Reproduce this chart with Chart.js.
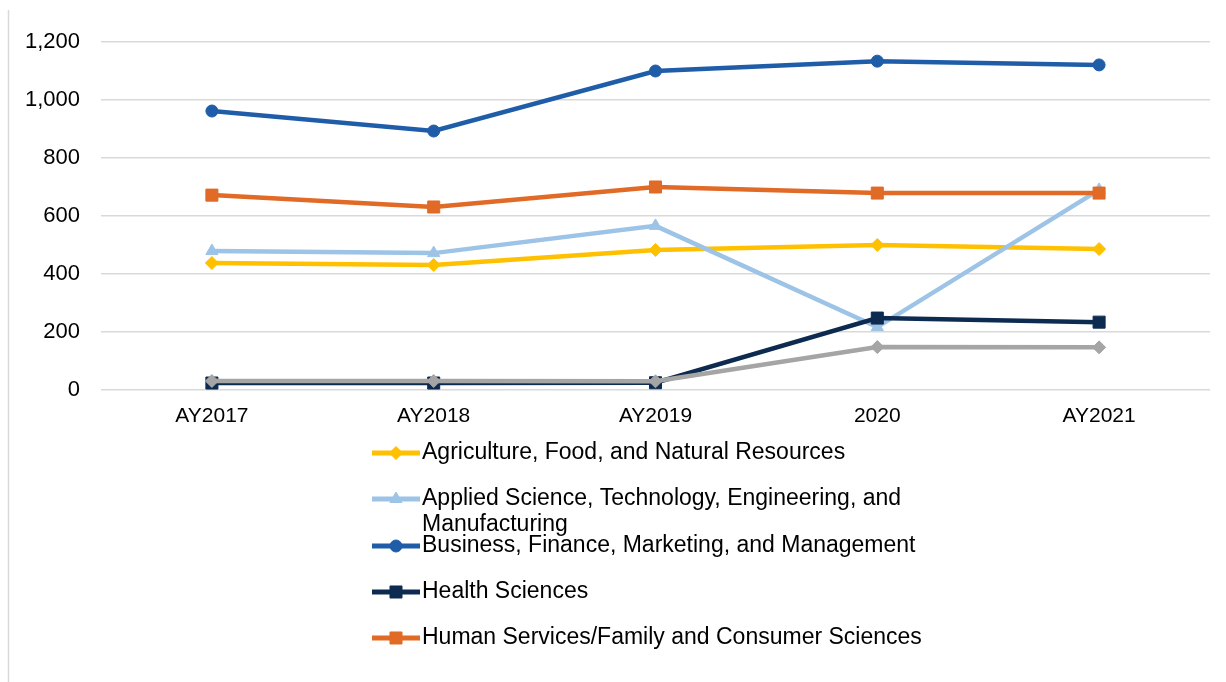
<!DOCTYPE html>
<html>
<head>
<meta charset="utf-8">
<script src="https://cdn.jsdelivr.net/npm/chart.js@4.4.1/dist/chart.umd.min.js"></script>
<style>
html,body{margin:0;padding:0;background:#fff;}
#wrap{position:relative;width:1226px;height:682px;}
</style>
</head>
<body>
<div id="wrap"><canvas id="c" width="1226" height="682"></canvas></div>
<script>
const categories = ["AY2017", "AY2018", "AY2019", "2020", "AY2021"];
const yTicks = [0, 200, 400, 600, 800, 1000, 1200];

const agriculture = [438, 431, 483, 500, 486];
const appliedScience = [479, 472, 566, 217, 690];
const business = [962, 893, 1100, 1134, 1121];
const healthSciences = [24, 24, 25, 248, 234];
const humanServices = [672, 631, 700, 679, 679];
const otherCluster = [31, 31, 30, 148, 147];

const seriesNames = [
  "Agriculture, Food, and Natural Resources",
  "Applied Science, Technology, Engineering, and Manufacturing",
  "Business, Finance, Marketing, and Management",
  "Health Sciences",
  "Human Services/Family and Consumer Sciences",
  "Other"
];
const legendCount = 5;

const FONT = '"Liberation Sans", Arial, sans-serif';

function ds(label, data, color, style, radius, order) {
  return {
    label, data,
    borderColor: color, backgroundColor: color,
    pointBackgroundColor: color, pointBorderColor: color,
    pointStyle: style, pointRadius: radius, pointHoverRadius: radius,
    pointBorderWidth: 1,
    borderWidth: 4.5, tension: 0, order
  };
}

const datasets = [
  ds(seriesNames[0], agriculture, "#FFC000", "rectRot", 6.5, 5),
  ds(seriesNames[1], appliedScience, "#9DC3E6", "triangle", 7, 4),
  ds(seriesNames[2], business, "#1F5DA8", "circle", 6, 3),
  ds(seriesNames[3], healthSciences, "#0D2B50", "rect", 8.5, 2),
  ds(seriesNames[4], humanServices, "#E06A26", "rect", 8.5, 1),
  ds(seriesNames[5], otherCluster, "#A5A5A5", "rectRot", 6.5, 0)
];

const legendPlugin = {
  id: "customLegend",
  afterDraw(chart) {
    const ctx = chart.ctx;
    ctx.save();
    ctx.strokeStyle = "#D9D9D9";
    ctx.lineWidth = 1.5;
    ctx.beginPath();
    ctx.moveTo(8.5, 10);
    ctx.lineTo(8.5, 682);
    ctx.stroke();

    ctx.font = "23px " + FONT;
    ctx.textBaseline = "middle";
    ctx.textAlign = "left";
    const x0 = 372, lineLen = 48, textX = 422, maxW = 520;
    const ys = [453, 499, 546, 592, 638];
    for (let i = 0; i < legendCount; i++) {
      const d = chart.data.datasets[i];
      const y = ys[i];
      ctx.strokeStyle = d.borderColor;
      ctx.lineWidth = 5;
      ctx.beginPath();
      ctx.moveTo(x0, y);
      ctx.lineTo(x0 + lineLen, y);
      ctx.stroke();
      ctx.fillStyle = d.borderColor;
      ctx.strokeStyle = d.borderColor;
      ctx.lineWidth = 1;
      Chart.helpers.drawPoint(ctx, {pointStyle: d.pointStyle, radius: d.pointRadius, rotation: 0, borderWidth: 1}, x0 + lineLen / 2, y);
      const words = d.label.split(" ");
      const lines = [];
      let cur = "";
      for (const w of words) {
        const t = cur ? cur + " " + w : w;
        if (ctx.measureText(t).width > maxW && cur) { lines.push(cur); cur = w; }
        else cur = t;
      }
      if (cur) lines.push(cur);
      ctx.fillStyle = "#000";
      lines.forEach((ln, k) => ctx.fillText(ln, textX, y + k * 26));
    }
    ctx.restore();
  }
};

new Chart(document.getElementById("c"), {
  type: "line",
  data: { labels: categories, datasets },
  options: {
    responsive: false,
    animation: false,
    devicePixelRatio: 1,
    layout: { padding: { left: 0, right: 16, top: 42, bottom: 242 } },
    plugins: { legend: { display: false }, tooltip: { enabled: false } },
    scales: {
      x: {
        offset: true,
        grid: { display: false, drawTicks: false },
        border: { display: false },
        ticks: { color: "#000", font: { family: FONT, size: 21 }, padding: 14, maxRotation: 0 },
        afterFit(s) { s.height = 50; }
      },
      y: {
        min: 0, max: 1200,
        afterBuildTicks(s) { s.ticks = yTicks.map(v => ({ value: v })); },
        grid: { color: "#D9D9D9", lineWidth: 1.5, drawTicks: false },
        border: { display: false },
        ticks: {
          color: "#000", font: { family: FONT, size: 22 }, padding: 21,
          callback: v => v.toLocaleString("en-US")
        },
        afterFit(s) { s.width = 101; }
      }
    }
  },
  plugins: [legendPlugin, {
    id: "bg",
    beforeDraw(chart) {
      const c = chart.ctx; c.save(); c.fillStyle = "#fff"; c.fillRect(0, 0, chart.width, chart.height); c.restore();
    }
  }]
});
</script>
</body>
</html>
